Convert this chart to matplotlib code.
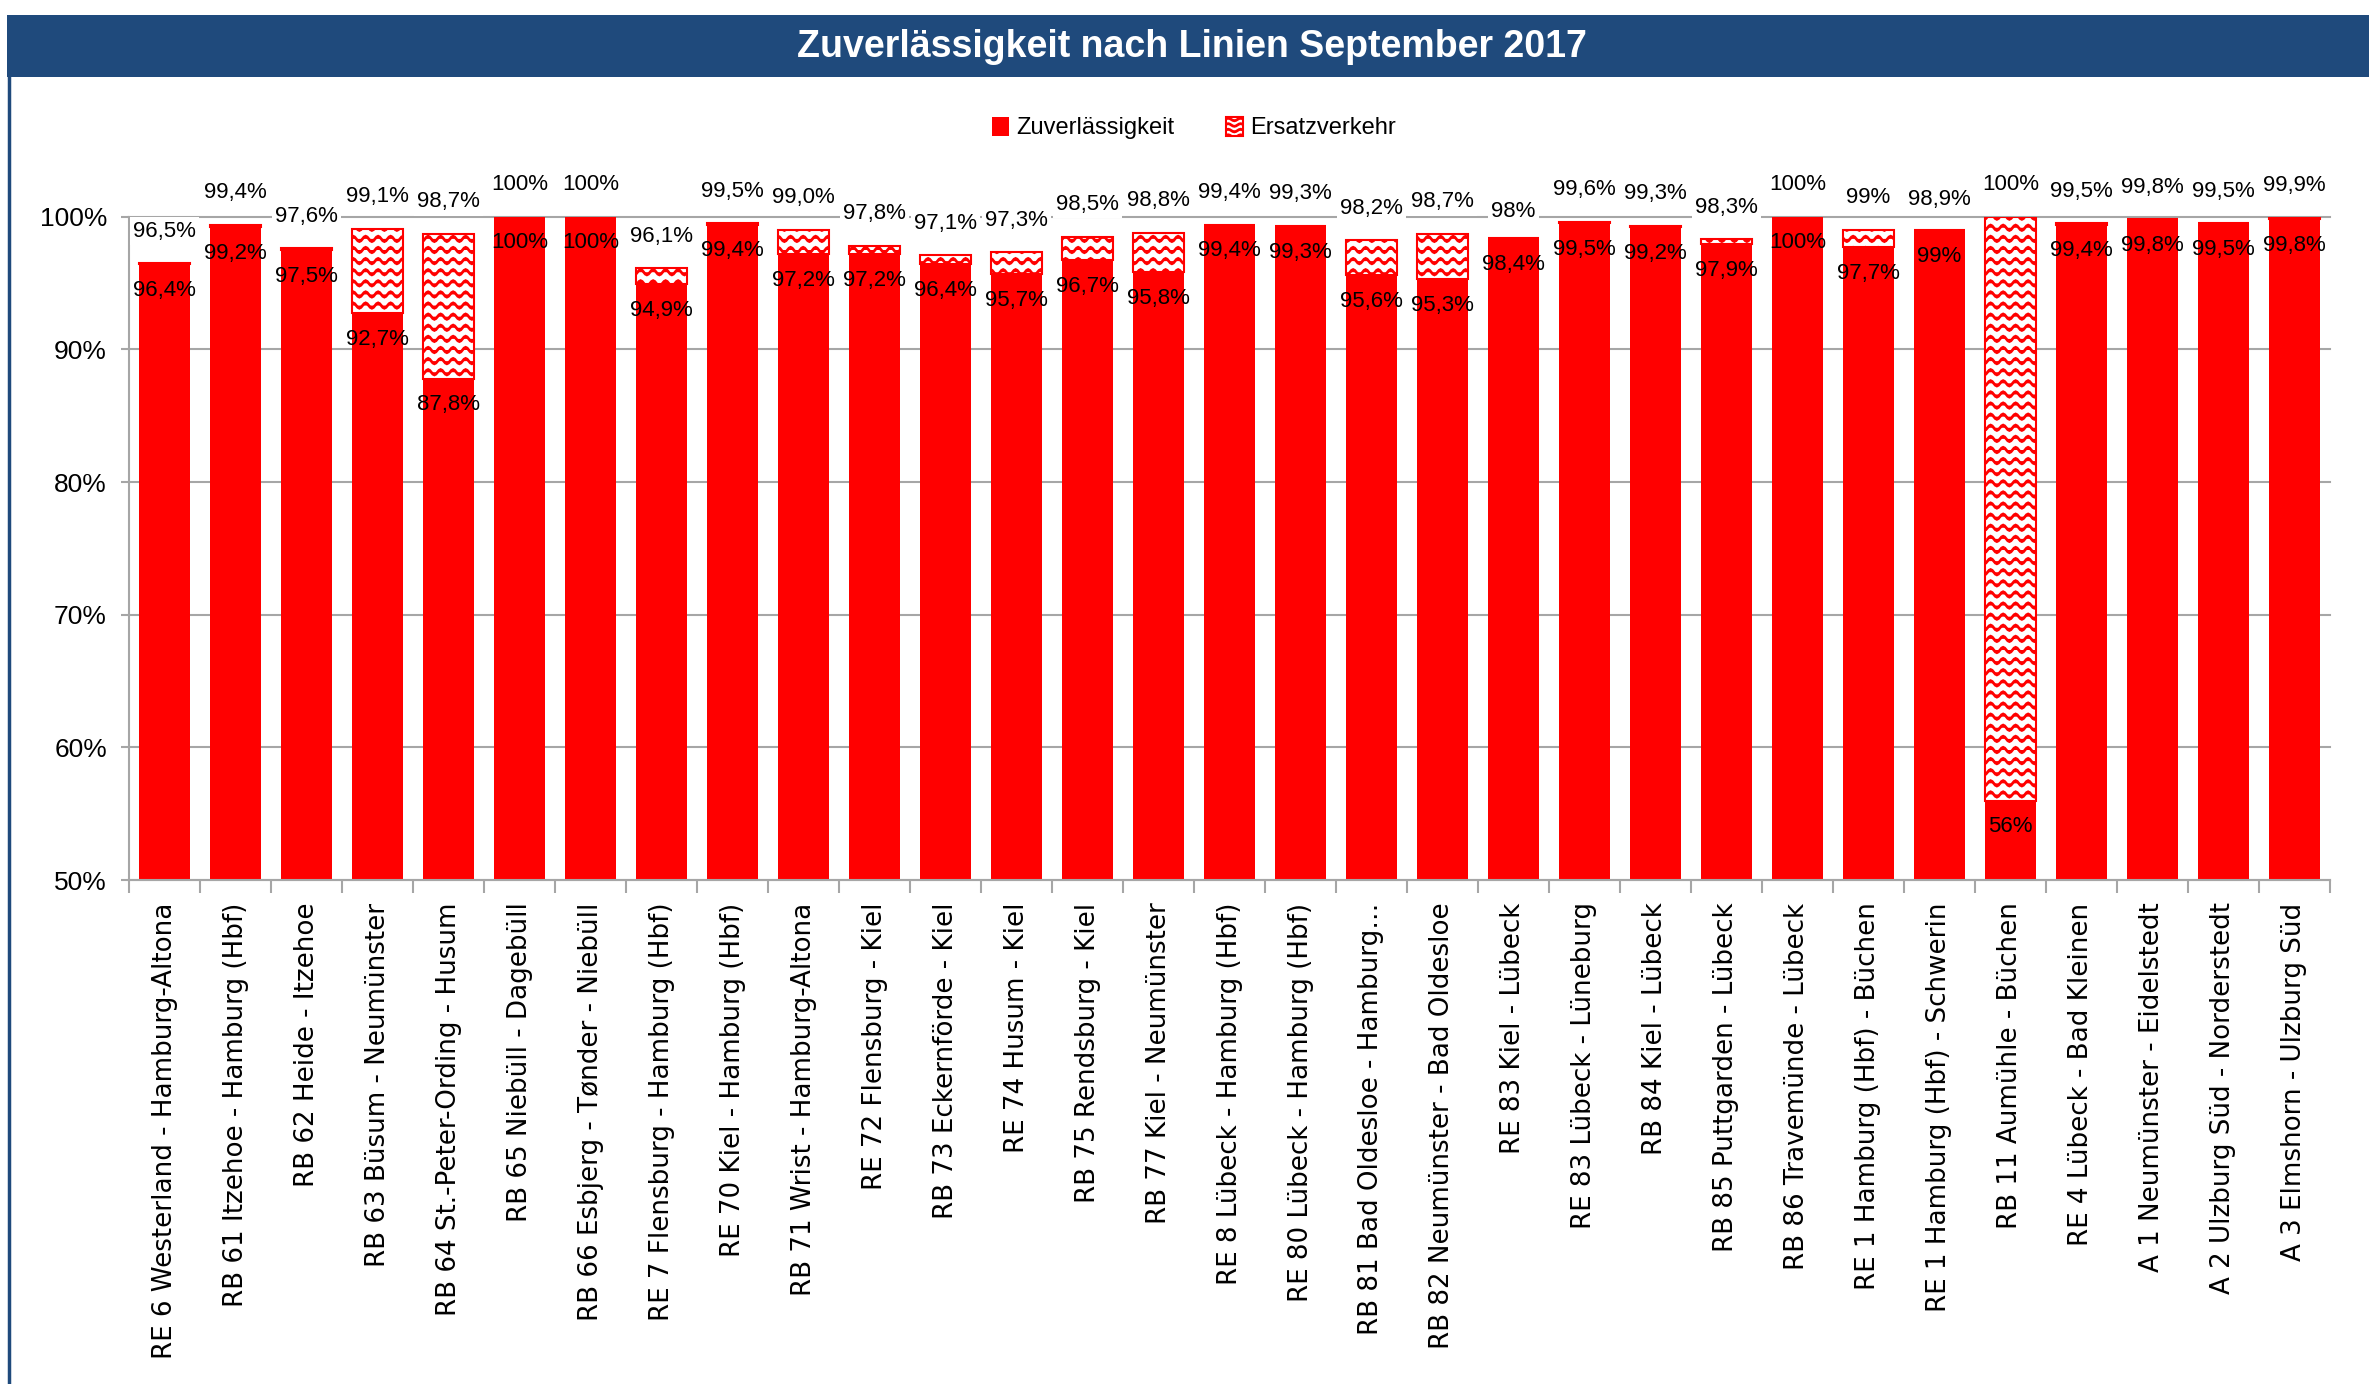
import warnings
import numpy as np
import matplotlib
matplotlib.use("Agg")
import matplotlib.pyplot as plt
import matplotlib.hatch as mhatch
from matplotlib.path import Path
from matplotlib.patches import Rectangle, Patch
from matplotlib.lines import Line2D

warnings.filterwarnings("ignore")

# --- data ---
linien = [
    "RE 6 Westerland - Hamburg-Altona",
    "RB 61 Itzehoe - Hamburg (Hbf)",
    "RB 62 Heide - Itzehoe",
    "RB 63 Büsum - Neumünster",
    "RB 64 St.-Peter-Ording - Husum",
    "RB 65 Niebüll - Dagebüll",
    "RB 66 Esbjerg - Tønder - Niebüll",
    "RE 7 Flensburg - Hamburg (Hbf)",
    "RE 70 Kiel - Hamburg (Hbf)",
    "RB 71 Wrist - Hamburg-Altona",
    "RE 72 Flensburg - Kiel",
    "RB 73 Eckernförde - Kiel",
    "RE 74 Husum - Kiel",
    "RB 75 Rendsburg - Kiel",
    "RB 77 Kiel - Neumünster",
    "RE 8 Lübeck - Hamburg (Hbf)",
    "RE 80 Lübeck - Hamburg (Hbf)",
    "RB 81 Bad Oldesloe - Hamburg…",
    "RB 82 Neumünster - Bad Oldesloe",
    "RE 83 Kiel - Lübeck",
    "RE 83 Lübeck - Lüneburg",
    "RB 84 Kiel - Lübeck",
    "RB 85 Puttgarden - Lübeck",
    "RB 86 Travemünde - Lübeck",
    "RE 1 Hamburg (Hbf) - Büchen",
    "RE 1 Hamburg (Hbf) - Schwerin",
    "RB 11 Aumühle - Büchen",
    "RE 4 Lübeck - Bad Kleinen",
    "A 1 Neumünster - Eidelstedt",
    "A 2 Ulzburg Süd - Norderstedt",
    "A 3 Elmshorn - Ulzburg Süd",
]

# Zuverlässigkeit (ohne Ersatzverkehr), as printed inside the bars
zuverl_txt = ["96,4%", "99,2%", "97,5%", "92,7%", "87,8%", "100%", "100%",
              "94,9%", "99,4%", "97,2%", "97,2%", "96,4%", "95,7%", "96,7%",
              "95,8%", "99,4%", "99,3%", "95,6%", "95,3%", "98,4%", "99,5%",
              "99,2%", "97,9%", "100%", "97,7%", "99%", "56%", "99,4%",
              "99,8%", "99,5%", "99,8%"]

# Zuverlässigkeit inkl. Ersatzverkehr, as printed above the bars
gesamt_txt = ["96,5%", "99,4%", "97,6%", "99,1%", "98,7%", "100%", "100%",
              "96,1%", "99,5%", "99,0%", "97,8%", "97,1%", "97,3%", "98,5%",
              "98,8%", "99,4%", "99,3%", "98,2%", "98,7%", "98%", "99,6%",
              "99,3%", "98,3%", "100%", "99%", "98,9%", "100%", "99,5%",
              "99,8%", "99,5%", "99,9%"]


def pct(s):
    return float(s.rstrip("%").replace(",", "."))


zuverl = np.array([pct(s) for s in zuverl_txt])
gesamt = np.array([pct(s) for s in gesamt_txt])
ersatz = np.clip(gesamt - zuverl, 0, None)

RED = "#FF0000"
NAVY = "#1F4A7C"
GRID = "#A6A6A6"


# wavy hatch like the Excel "wave" pattern
class WaveHatch(mhatch.HatchPatternBase):
    def __init__(self, hatch, density):
        n = hatch.count("~")
        self.rows = 9 * n
        self.waves = 8
        self.pts = self.waves * 8 + 1
        self.num_vertices = self.rows * self.pts

    def set_vertices_and_codes(self, vertices, codes):
        x = np.linspace(0, 1, self.pts)
        for i in range(self.rows):
            y0 = (i + 0.5) / self.rows
            sl = slice(i * self.pts, (i + 1) * self.pts)
            vertices[sl, 0] = x
            vertices[sl, 1] = y0 + 0.24 / self.rows * np.sin(2 * np.pi * self.waves * x)
            codes[sl] = Path.LINETO
            codes[i * self.pts] = Path.MOVETO


mhatch._hatch_types.append(WaveHatch)
plt.rcParams["hatch.linewidth"] = 2.0

NARROW = ["Liberation Sans Narrow", "Liberation Sans", "DejaVu Sans"]

fig = plt.figure(figsize=(23.69, 13.84), dpi=100)
ax = fig.add_axes([0.0545, 0.364, 0.929, 0.4795])

x = np.arange(len(linien))
w = 0.72
ax.bar(x, zuverl - 50, bottom=50, width=w, color=RED, edgecolor="none", zorder=2)
ax.bar(x, ersatz, bottom=zuverl, width=w, color="white", edgecolor=RED,
       hatch="~", linewidth=1.5, zorder=2)

# labels inside (Zuverlässigkeit) and above (gesamt)
for xi, z, g, zt, gt in zip(x, zuverl, gesamt, zuverl_txt, gesamt_txt):
    ax.annotate(zt, (xi, z), xytext=(0, -19), textcoords="offset points",
                ha="center", va="center", fontsize=16, family=NARROW, zorder=4)
    ax.annotate(gt, (xi, g), xytext=(0, 23), textcoords="offset points",
                ha="center", va="center", fontsize=16, family=NARROW,
                annotation_clip=False, zorder=4,
                bbox=dict(boxstyle="square,pad=0.15", fc="white", ec="none"))

ax.set_xlim(-0.5, len(linien) - 0.5)
ax.set_ylim(50, 100)
ax.set_yticks(np.arange(50, 101, 10))
ax.yaxis.set_major_formatter(plt.FuncFormatter(lambda v, p: f"{v:.0f}%"))
ax.yaxis.grid(True, color=GRID, linewidth=1.5, clip_on=False)
ax.set_axisbelow(True)

ax.set_xticks(x)
ax.set_xticklabels(linien, rotation=90, fontsize=18.8, family="DejaVu Sans")
ax.set_xticks(np.arange(-0.5, len(linien), 1), minor=True)
ax.tick_params(axis="x", which="major", length=0, pad=16)
ax.tick_params(axis="x", which="minor", length=9, width=1.5, color=GRID)
ax.tick_params(axis="y", length=6, width=1.5, color=GRID, pad=10)
for lab in ax.get_yticklabels():
    lab.set_fontsize(19)
    lab.set_family(NARROW)

for s in ["top", "right"]:
    ax.spines[s].set_visible(False)
for s in ["left", "bottom"]:
    ax.spines[s].set_color(GRID)
    ax.spines[s].set_linewidth(1.5)

# title band and frame
fig.patches.append(Rectangle((0.003, 0.9444), 0.997, 0.0448, transform=fig.transFigure,
                             facecolor=NAVY, edgecolor="none", zorder=0))
fig.lines.append(Line2D([0.0038, 0.0038], [0.0, 0.945], transform=fig.transFigure,
                        color=NAVY, linewidth=2.5))
fig.text(0.503, 0.966, "Zuverlässigkeit nach Linien September 2017", color="white",
         fontsize=27, fontweight="bold", family="Liberation Sans",
         ha="center", va="center")

handles = [Patch(facecolor=RED, edgecolor="none", label="Zuverlässigkeit"),
           Patch(facecolor="white", edgecolor=RED, hatch="~~", linewidth=1.5,
                 label="Ersatzverkehr")]
fig.legend(handles=handles, loc="center", bbox_to_anchor=(0.504, 0.9075), ncol=2,
           frameon=False, handlelength=0.7, handleheight=0.9, handletextpad=0.3,
           columnspacing=2.2, prop={"family": NARROW, "size": 17})

fig.savefig("out.png", dpi=100)
